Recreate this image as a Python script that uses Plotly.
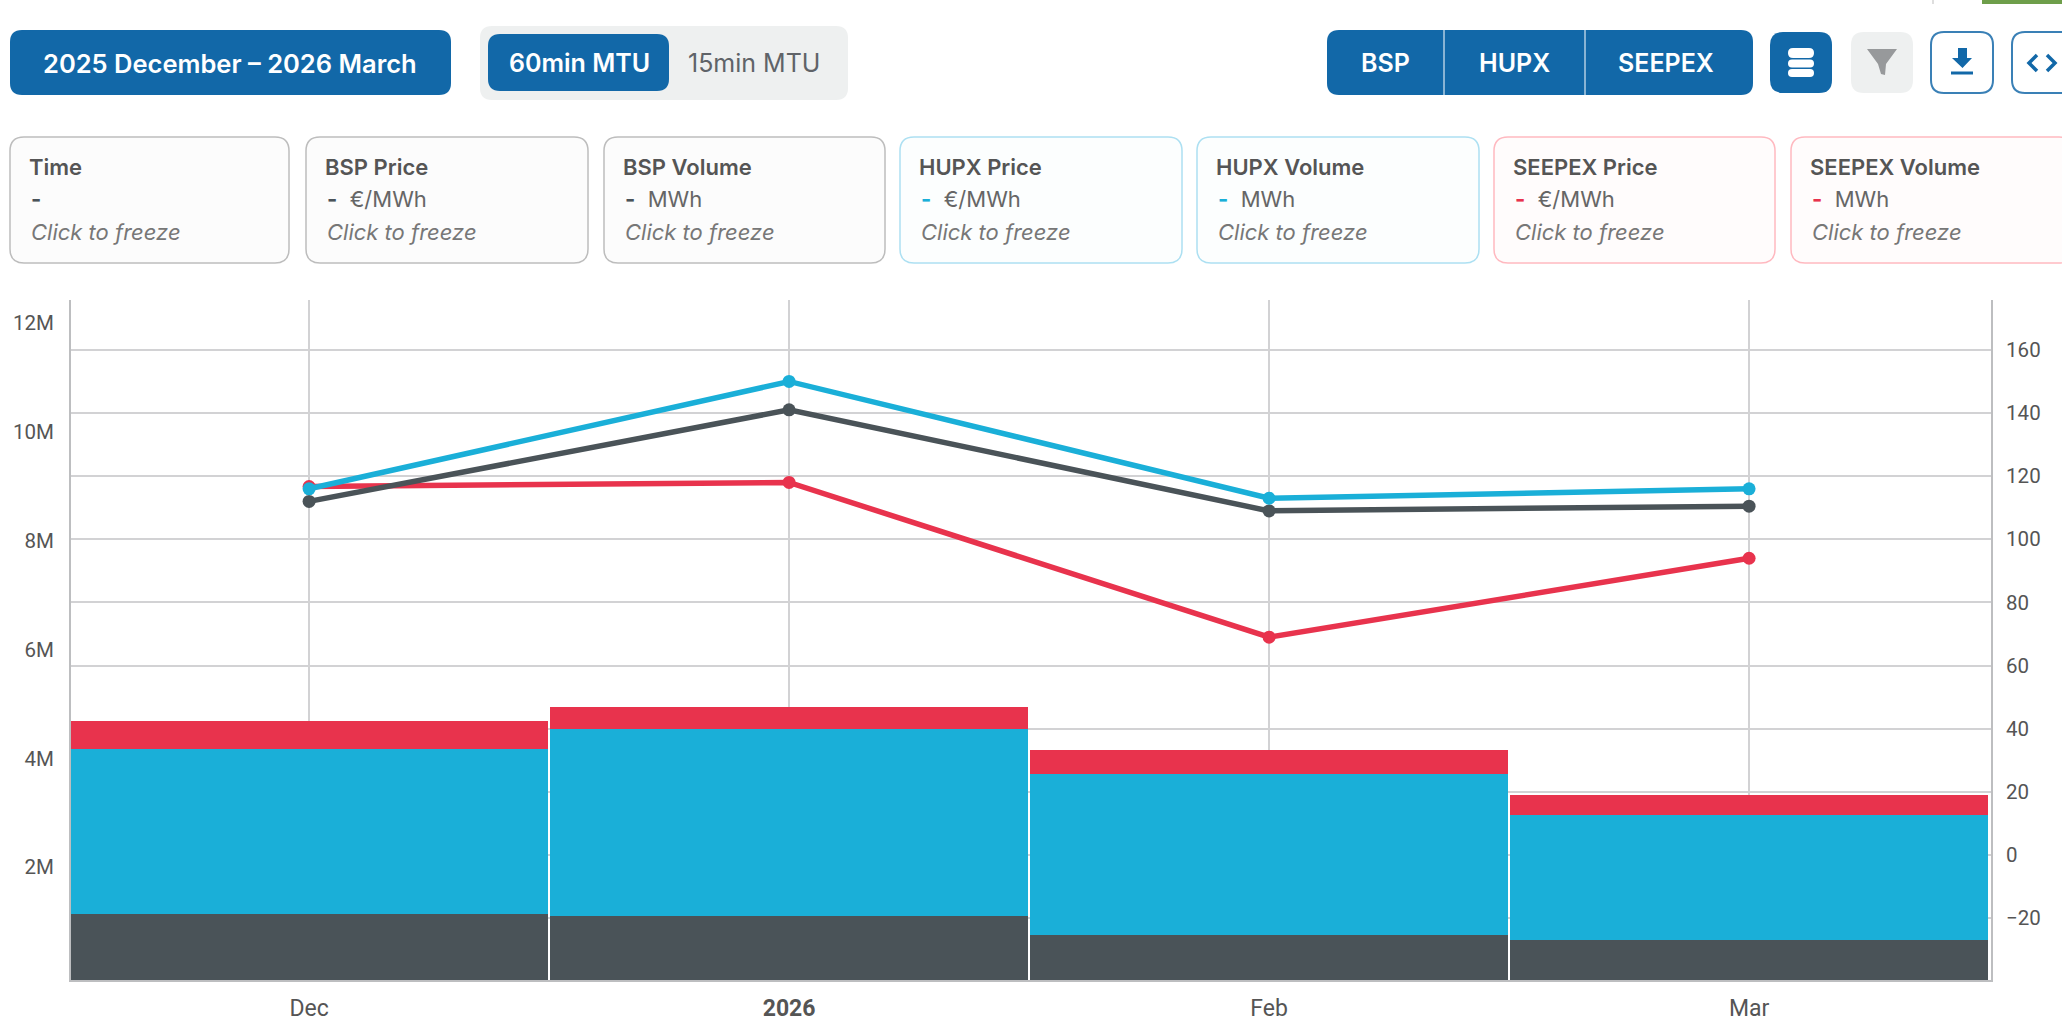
import plotly.graph_objects as go

W, H = 2062, 1031

# ---- chart data ----
categories = ["Dec", "Jan", "Feb", "Mar"]
tick_labels = ["Dec", "<b>2026</b>", "Feb", "Mar"]
bsp_volume = [1210000, 1180000, 820000, 740000]
hupx_volume = [3040000, 3430000, 2970000, 2290000]
seepex_volume = [510000, 410000, 430000, 360000]
bsp_price = [112, 141, 109, 110.5]
hupx_price = [116, 150, 113, 116]
seepex_price = [116.7, 118, 69, 94]
left_ticks = [2000000, 4000000, 6000000, 8000000, 10000000, 12000000]
left_labels = ["2M", "4M", "6M", "8M", "10M", "12M"]
right_ticks = [-20, 0, 20, 40, 60, 80, 100, 120, 140, 160]

card_titles = ["Time", "BSP Price", "BSP Volume", "HUPX Price", "HUPX Volume", "SEEPEX Price", "SEEPEX Volume"]
card_units = ["", "€/MWh", "MWh", "€/MWh", "MWh", "€/MWh", "MWh"]

# ---- colours ----
DARK, BLUE, RED = "#4A5358", "#1AAFD8", "#E8334D"
BTN = "#1268A8"
GREY_BG = "#EEF0F0"
GRID = "#D2D2D4"
AXIS = "#BDBEC0"

PL, PR, PT, PB = 71, 1991, 300, 980
LABEL_NUDGE = 70000  # left tick labels sit slightly above their nominal level


def fx(x):
    return x / W


def fy(y):
    return 1 - y / H


def rr(x0, y0, x1, y1, r, fill, line=None, lw=1.5, layer="below"):
    X0, X1, Y0, Y1 = fx(x0), fx(x1), fy(y0), fy(y1)
    rx, ry = r / W, r / H
    p = (f"M {X0+rx} {Y0} L {X1-rx} {Y0} Q {X1} {Y0} {X1} {Y0-ry} L {X1} {Y1+ry} Q {X1} {Y1} {X1-rx} {Y1} "
         f"L {X0+rx} {Y1} Q {X0} {Y1} {X0} {Y1+ry} L {X0} {Y0-ry} Q {X0} {Y0} {X0+rx} {Y0} Z")
    return dict(type="path", xref="paper", yref="paper", path=p, fillcolor=fill,
                line=dict(color=line or fill, width=lw if line else 0), layer=layer)


def poly(pts, fill=None, line=None, lw=2):
    p = "M " + " L ".join(f"{fx(a)} {fy(b)}" for a, b in pts)
    if fill:
        p += " Z"
    return dict(type="path", xref="paper", yref="paper", path=p, fillcolor=fill or "rgba(0,0,0,0)",
                line=dict(color=line or "rgba(0,0,0,0)", width=lw if line else 0), layer="above")


def txt(x, y, s, size=20, color="#555", weight=400, style="normal", anchor="center", family="Inter"):
    return dict(xref="paper", yref="paper", x=fx(x), y=fy(y), text=s, showarrow=False, xanchor=anchor,
                yanchor="middle", align="left" if anchor == "left" else "center",
                font=dict(family=family, size=size, color=color, weight=weight, style=style))


shapes, ann = [], []

# top-left controls
shapes.append(rr(10, 30, 451, 95, 12, BTN))
ann.append(txt(230, 63, "2025 December – 2026 March", 25.5, "#fff", 600))
shapes.append(rr(480, 26, 848, 100, 12, GREY_BG))
shapes.append(rr(488, 34, 669, 91, 12, BTN))
ann.append(txt(579, 63, "60min MTU", 25, "#fff", 600))
ann.append(txt(754, 63, "15min MTU", 25, "#5f6368", 400))

# exchange button group
shapes.append(rr(1327, 30, 1753, 95, 12, BTN))
shapes.append(poly([(1444, 30), (1444, 95)], line="#fff", lw=1))
shapes.append(poly([(1585, 30), (1585, 95)], line="#fff", lw=1))
ann.append(txt(1385, 63, "BSP", 25, "#fff", 600))
ann.append(txt(1514, 63, "HUPX", 25, "#fff", 600))
ann.append(txt(1666, 63, "SEEPEX", 25, "#fff", 600))

# database button
shapes.append(rr(1770, 32, 1832, 93, 13, BTN))
shapes.append(rr(1788, 48, 1814, 58, 5, "#fff", layer="above"))
shapes.append(rr(1788, 59.5, 1814, 67.5, 4, "#fff", layer="above"))
shapes.append(rr(1788, 69, 1814, 77, 4, "#fff", layer="above"))
# filter button
shapes.append(rr(1851, 32, 1913, 93, 13, GREY_BG))
shapes.append(poly([(1867, 49), (1897, 49), (1886, 64), (1885, 75), (1881, 74), (1878, 64)], fill="#97999B"))
# download button
shapes.append(rr(1931, 32, 1993, 93, 13, "#fff", "#3A80B6", 2))
shapes.append(poly([(1958, 48), (1967, 48), (1967, 58), (1972, 58), (1962.5, 68), (1952, 58), (1958, 58)], fill=BTN))
shapes.append(poly([(1951, 73), (1973, 73)], line=BTN, lw=3))
# embed button
shapes.append(rr(2012, 32, 2074, 93, 13, "#fff", "#3A80B6", 2))
shapes.append(poly([(2037, 55), (2029, 63), (2037, 71)], line=BTN, lw=3.5))
shapes.append(poly([(2047, 55), (2055, 63), (2047, 71)], line=BTN, lw=3.5))

# top-edge fragments
shapes.append(poly([(1933, 0), (1933, 4)], line="#BDBDBD", lw=1))
shapes.append(dict(type="rect", xref="paper", yref="paper", x0=fx(1982), x1=1, y0=fy(4), y1=1,
                   fillcolor="#6E9E4A", line=dict(width=0), layer="above"))

# info cards
card_left = [10, 306, 604, 900, 1197, 1494, 1791]
card_right = [289, 588, 885, 1182, 1479, 1775, 2073]
card_line = ["#BDBDBD", "#BDBDBD", "#BDBDBD", "#ADE0F2", "#ADE0F2", "#FFB9C0", "#FFB9C0"]
card_fill = ["#FCFCFC", "#FCFCFC", "#FCFCFC", "#FCFEFE", "#FCFEFE", "#FFFCFC", "#FFFCFC"]
card_dash = [DARK, DARK, DARK, BLUE, BLUE, RED, RED]
for i, title in enumerate(card_titles):
    l = card_left[i]
    shapes.append(rr(l, 137, card_right[i], 263, 14, card_fill[i], card_line[i], 1.5))
    ann.append(txt(l + 17, 167, title, 22, "#555", 600, anchor="left"))
    row = f'<span style="color:{card_dash[i]}"><b>-</b></span>'
    if card_units[i]:
        row += "  " + card_units[i]
    ann.append(txt(l + 19, 199, row, 22, "#666", 400, anchor="left"))
    ann.append(txt(l + 19, 232, "Click to freeze", 22, "#777", 400, "italic", anchor="left"))

fig = go.Figure()
for name, vals, col in [("BSP Volume", bsp_volume, DARK), ("HUPX Volume", hupx_volume, BLUE),
                        ("SEEPEX Volume", seepex_volume, RED)]:
    fig.add_bar(x=categories, y=vals, name=name, marker=dict(color=col, line=dict(width=0)), yaxis="y", xaxis="x")
for name, vals, col in [("SEEPEX Price", seepex_price, RED), ("BSP Price", bsp_price, DARK),
                        ("HUPX Price", hupx_price, BLUE)]:
    fig.add_scatter(x=categories, y=vals, name=name, mode="lines+markers", yaxis="y2", xaxis="x",
                    line=dict(color=col, width=5.5), marker=dict(color=col, size=13))

y_font = dict(family="Roboto", size=20.5, color="#555")
x_font = dict(family="Roboto", size=23, color="#555")
fig.update_layout(
    width=W, height=H, margin=dict(l=0, r=0, t=0, b=0), showlegend=False, barmode="stack", bargap=0.005,
    paper_bgcolor="#fff", plot_bgcolor="#fff", shapes=shapes, annotations=ann,
    xaxis=dict(domain=[fx(PL), fx(PR)], type="category", range=[-0.496, 3.504], tickmode="array",
               tickvals=categories, ticktext=tick_labels, showgrid=True, gridcolor=GRID, gridwidth=1.5,
               showline=True, linecolor=AXIS, linewidth=2, ticks="", tickfont=x_font, ticklabelstandoff=6),
    yaxis=dict(domain=[fy(PB), fy(PT)], range=[0, 12490000], tickmode="array",
               tickvals=[v + LABEL_NUDGE for v in left_ticks],
               ticktext=left_labels, showgrid=False, showline=True, linecolor=AXIS, linewidth=2, ticks="",
               tickfont=y_font, ticklabelstandoff=11, zeroline=False),
    yaxis2=dict(domain=[fy(PB), fy(PT)], overlaying="y", side="right", anchor="x", range=[-39.6, 175.8],
                tickmode="array", tickvals=right_ticks, showgrid=True, gridcolor=GRID, gridwidth=1.5,
                showline=True, linecolor=AXIS, linewidth=2, ticks="", tickfont=y_font, ticklabelstandoff=9,
                zeroline=False),
)

fig.write_html("out.html", config={"displayModeBar": False},
               post_script="document.body.style.margin='0';document.body.style.overflow='hidden';")
